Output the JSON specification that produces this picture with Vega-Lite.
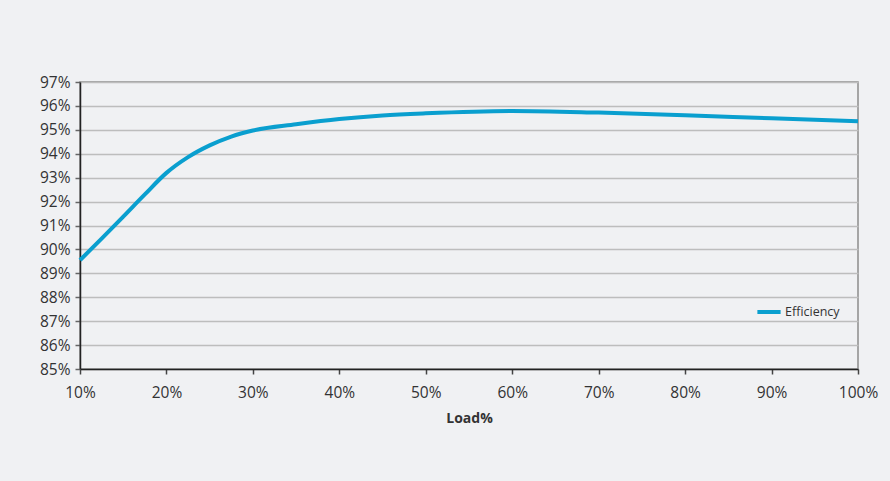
{
  "$schema": "https://vega.github.io/schema/vega-lite/v6.json",
  "width": 778,
  "height": 287,
  "autosize": {"type": "none"},
  "padding": {"left": 80, "top": 82, "right": 32, "bottom": 112},
  "background": "#f0f1f3",
  "config": {
    "view": {"stroke": "#8c8c8c", "strokeWidth": 1.5},
    "font": "Open Sans"
  },
  "data": {
    "values": [
      {"load": 10, "eff": 89.55, "series": "Efficiency"},
      {"load": 12.5, "eff": 90.45, "series": "Efficiency"},
      {"load": 15, "eff": 91.37, "series": "Efficiency"},
      {"load": 17.5, "eff": 92.3, "series": "Efficiency"},
      {"load": 20, "eff": 93.2, "series": "Efficiency"},
      {"load": 22.5, "eff": 93.86, "series": "Efficiency"},
      {"load": 25, "eff": 94.35, "series": "Efficiency"},
      {"load": 27.5, "eff": 94.72, "series": "Efficiency"},
      {"load": 30, "eff": 94.97, "series": "Efficiency"},
      {"load": 35, "eff": 95.23, "series": "Efficiency"},
      {"load": 40, "eff": 95.45, "series": "Efficiency"},
      {"load": 45, "eff": 95.6, "series": "Efficiency"},
      {"load": 50, "eff": 95.69, "series": "Efficiency"},
      {"load": 60, "eff": 95.79, "series": "Efficiency"},
      {"load": 70, "eff": 95.72, "series": "Efficiency"},
      {"load": 80, "eff": 95.61, "series": "Efficiency"},
      {"load": 90, "eff": 95.48, "series": "Efficiency"},
      {"load": 100, "eff": 95.36, "series": "Efficiency"}
    ]
  },
  "mark": {"type": "line", "strokeWidth": 4, "interpolate": "monotone"},
  "encoding": {
    "x": {
      "field": "load",
      "type": "quantitative",
      "scale": {"domain": [10, 100], "nice": false, "zero": false},
      "axis": {
        "values": [10, 20, 30, 40, 50, 60, 70, 80, 90, 100],
        "labelExpr": "datum.value + '%'",
        "title": "Load%",
        "titleFontSize": 14,
        "titleFontWeight": "bold",
        "titleColor": "#333",
        "titlePadding": 11,
        "labelFontSize": 15.5,
        "labelColor": "#333",
        "labelPadding": 11,
        "grid": false,
        "domainColor": "#222",
        "domainWidth": 1.5,
        "tickColor": "#444",
        "tickSize": 5,
        "tickWidth": 1.5,
        "labelFlush": false
      }
    },
    "y": {
      "field": "eff",
      "type": "quantitative",
      "scale": {"domain": [85, 97], "nice": false, "zero": false},
      "axis": {
        "values": [85, 86, 87, 88, 89, 90, 91, 92, 93, 94, 95, 96, 97],
        "labelExpr": "datum.value + '%'",
        "title": null,
        "labelFontSize": 15.5,
        "labelColor": "#333",
        "labelPadding": 5,
        "grid": true,
        "gridColor": "#bdbdbd",
        "gridWidth": 1.5,
        "domainColor": "#222",
        "domainWidth": 1.5,
        "tickColor": "#666",
        "tickSize": 5,
        "tickWidth": 1.5
      }
    },
    "color": {
      "field": "series",
      "type": "nominal",
      "scale": {"range": ["#0a9fcf"]},
      "legend": {
        "title": null,
        "orient": "none",
        "legendX": 675,
        "legendY": 216,
        "symbolType": "stroke",
        "symbolStrokeWidth": 4,
        "symbolSize": 540,
        "labelFontSize": 12.5,
        "labelColor": "#333",
        "labelOffset": 2
      }
    }
  }
}
